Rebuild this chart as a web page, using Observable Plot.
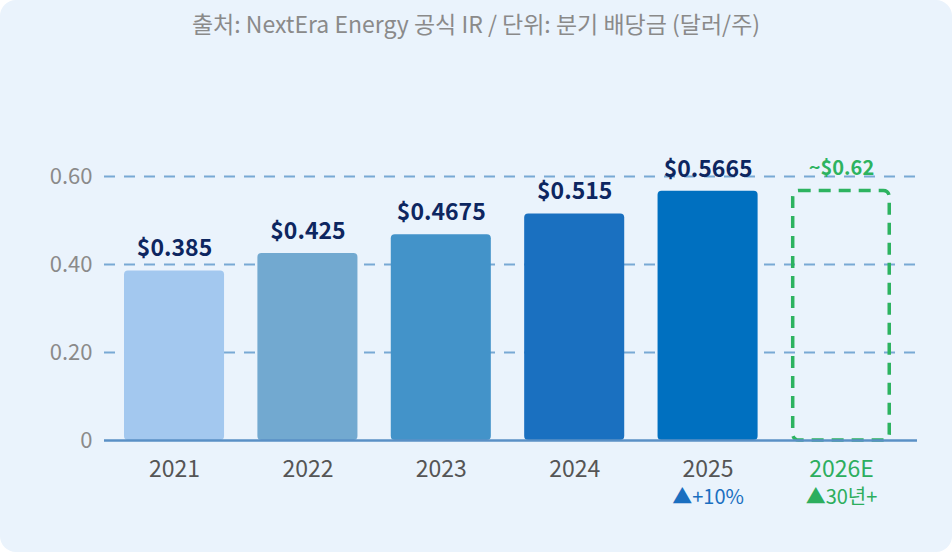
<!DOCTYPE html>
<html><head><meta charset="utf-8">
<script src="https://cdn.jsdelivr.net/npm/d3@7"></script>
<script src="https://cdn.jsdelivr.net/npm/@observablehq/plot@0.6"></script>
<style>
html,body{margin:0;padding:0;background:#ffffff;}
#card{position:relative;width:952px;height:552px;background:#EAF3FC;border-radius:16px;overflow:hidden;font-family:"Noto Sans CJK KR","Noto Sans",sans-serif;}
#title{position:absolute;top:6px;left:0;width:952px;text-align:center;font-size:23px;color:#8a8a8a;}
#chart{position:absolute;top:0;left:0;}
</style></head>
<body><div id="card"><div id="title">출처: NextEra Energy 공식 IR / 단위: 분기 배당금 (달러/주)</div><div id="chart"></div></div>
<script>
const years = ["2021","2022","2023","2024","2025","2026E"];
const dividends = [0.385, 0.425, 0.4675, 0.515, 0.5665, 0.567];
const valueLabels = ["$0.385","$0.425","$0.4675","$0.515","$0.5665","~$0.62"];
const barColors = ["#A3C8EF","#72A9D0","#4393C9","#1A70C0","#0070C0","none"];
const subYears = ["2025","2026E"];
const subLabels = ["▲+10%","▲30년+"];
const subColors = ["#1A6FC0","#2DAE5E"];
const yTicks = [0, 0.2, 0.4, 0.6];

const rows = years.map((y,i)=>({year:y, value:dividends[i], label:valueLabels[i], color:barColors[i], estimate: y.endsWith("E")}));
const actual = rows.filter(d=>!d.estimate);
const est = rows.filter(d=>d.estimate);
const subs = subYears.map((y,i)=>({year:y, label:subLabels[i], color:subColors[i]}));

const chart = Plot.plot({
  width: 952, height: 552,
  marginLeft: 104, marginRight: 41, marginTop: 176, marginBottom: 112,
  style: {fontFamily: '"Noto Sans CJK KR","Noto Sans",sans-serif', background: "transparent", overflow: "visible"},
  x: {domain: years, paddingInner: 0.25, paddingOuter: 0.15, round: false, axis: null},
  y: {domain: [0, 0.6], ticks: yTicks, axis: null},
  marks: [
    Plot.ruleY(yTicks.filter(t=>t>0), {stroke: "#78A9D4", strokeWidth: 2, strokeDasharray: "11,9", insetRight: -6}),
    Plot.barY(actual, {x: "year", y: "value", fill: "color", rx: 4}),
    Plot.barY(est, {x: "year", y: "value", fill: "none", stroke: "#2DB360", strokeWidth: 3.5, strokeDasharray: "12,8", rx: 6, insetLeft: 1.75, insetRight: 1.75}),
    Plot.ruleY([0], {stroke: "#5A90C6", strokeWidth: 2.5, insetRight: -6}),
    Plot.text(actual, {x: "year", y: "value", text: "label", dy: -22, fill: "#0D2660", fontWeight: "bold", fontSize: 23}),
    Plot.text(est, {x: "year", y: "value", text: "label", dy: -22, fill: "#2DB360", fontWeight: "bold", fontSize: 20}),
    Plot.text(yTicks, {x: null, y: d=>d, text: d=> d===0 ? "0" : d.toFixed(2), frameAnchor: "left", dx: -12, textAnchor: "end", fill: "#8A8A8A", fontSize: 22}),
    Plot.text(years, {x: d=>d, text: d=>d, frameAnchor: "bottom", lineAnchor: "middle", dy: 29, fill: d=> d.endsWith("E") ? "#2DAE5E" : "#555555", fontSize: 23}),
    Plot.text(subs, {x: "year", text: "label", frameAnchor: "bottom", lineAnchor: "middle", dy: 57, fill: "color", fontSize: 20})
  ]
});
document.getElementById("chart").appendChild(chart);
</script>
</body></html>
